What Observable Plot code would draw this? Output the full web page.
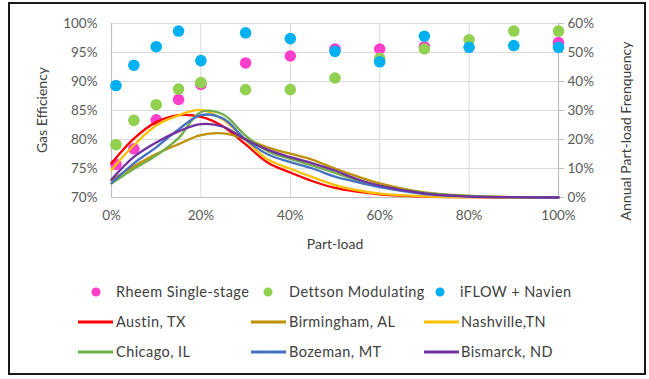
<!DOCTYPE html>
<html>
<head>
<meta charset="utf-8">
<script src="https://cdn.jsdelivr.net/npm/d3@7"></script>
<script src="https://cdn.jsdelivr.net/npm/@observablehq/plot@0.6"></script>
<style>
  html, body { margin: 0; padding: 0; background: #fff; }
  body { width: 649px; height: 379px; position: relative; overflow: hidden; font-family: Lato, "Open Sans", sans-serif; }
  #frame { position: absolute; left: 8px; top: 2px; width: 638px; height: 373px; box-sizing: border-box; border: 2px solid #1a1a1a; }
  #chart { position: absolute; left: 0; top: 0; }
  .t { position: absolute; color: #404040; font-size: 14px; white-space: nowrap; line-height: 1; }
  .rot { transform: translate(-50%, -50%) rotate(-90deg); }
  .leg { position: absolute; color: #404040; font-size: 14.5px; letter-spacing: 0.45px; white-space: nowrap; line-height: 1; transform: translateY(-50%); }
  .sw-dot { position: absolute; width: 9px; height: 9px; border-radius: 50%; transform: translate(-50%, -50%); }
  .sw-line { position: absolute; height: 3px; transform: translateY(-50%); }
</style>
</head>
<body>
<div id="frame"></div>
<div id="chart"></div>
<div id="titles"></div>
<div id="legend"></div>
<script>
// ---- Data ----
const partLoad   = [0, 5, 10, 15, 20, 25, 30, 35, 40, 45, 50, 55, 60, 70, 80, 90, 100];
const austin     = [11.8, 20.3, 26.0, 28.4, 27.8, 24.5, 18.3, 12.0, 8.6, 5.6, 3.3, 2.0, 1.1, 0.3, 0.1, 0, 0];
const birmingham = [6.0, 10.8, 15.0, 18.4, 21.5, 22.1, 20.2, 17.2, 15.1, 13.0, 10.0, 7.3, 4.9, 1.8, 0.6, 0.1, 0];
const nashville  = [9.6, 18.0, 24.8, 28.3, 30.2, 26.8, 19.8, 13.1, 9.9, 7.0, 4.3, 2.5, 1.3, 0.4, 0.1, 0, 0];
const chicago    = [4.8, 9.9, 14.5, 20.5, 29.5, 28.6, 21.3, 16.0, 13.3, 11.0, 8.5, 6.0, 4.0, 1.6, 0.5, 0.1, 0];
const bozeman    = [5.0, 11.8, 17.3, 23.5, 28.4, 27.2, 20.0, 14.8, 12.2, 10.0, 7.2, 5.3, 3.6, 1.2, 0.4, 0.1, 0];
const bismarck   = [6.2, 14.0, 19.0, 22.8, 25.3, 24.4, 20.0, 16.4, 13.9, 11.8, 9.3, 6.3, 4.1, 1.4, 0.3, 0.1, 0];

const rheemX    = [1, 5, 10, 15, 20, 30, 40, 50, 60, 70, 100];
const rheem     = [75.7, 78.4, 83.4, 86.9, 89.5, 93.2, 94.4, 95.6, 95.6, 96.0, 96.7];
const dettsonX  = [1, 5, 10, 15, 20, 30, 40, 50, 60, 70, 80, 90, 100];
const dettson   = [79.1, 83.3, 86.0, 88.7, 89.8, 88.6, 88.6, 90.6, 94.0, 95.6, 97.2, 98.7, 98.7];
const iflowX    = [1, 5, 10, 15, 20, 30, 40, 50, 60, 70, 80, 90, 100];
const iflow     = [89.3, 92.8, 96.0, 98.7, 93.6, 98.4, 97.4, 95.2, 93.4, 97.8, 95.9, 96.2, 95.9];

const effTicks  = [70, 75, 80, 85, 90, 95, 100];
const xTicks    = [0, 20, 40, 60, 80, 100];

const lineSeries = [
  {name: "Austin, TX", values: austin, color: "#FF0000"},
  {name: "Birmingham, AL", values: birmingham, color: "#BF9000"},
  {name: "Nashville,TN", values: nashville, color: "#FFC000"},
  {name: "Chicago, IL", values: chicago, color: "#70AD47"},
  {name: "Bozeman, MT", values: bozeman, color: "#4472C4"},
  {name: "Bismarck, ND", values: bismarck, color: "#7030A0"}
];
const dotSeries = [
  {name: "Rheem Single-stage", xs: rheemX, values: rheem, color: "#FF3FCB"},
  {name: "Dettson Modulating", xs: dettsonX, values: dettson, color: "#92D050"},
  {name: "iFLOW + Navien", xs: iflowX, values: iflow, color: "#00B0F0"}
];

// frequency (0-60%) mapped onto the efficiency scale (70-100%)
const f2e = f => 70 + f / 2;

const lineRows = lineSeries.flatMap(s => partLoad.map((x, i) => ({x, f: s.values[i], name: s.name, color: s.color})));
const dotRows = dotSeries.flatMap(s => s.xs.map((x, i) => ({x, e: s.values[i], name: s.name, color: s.color})));

const W = 649, H = 262;
const chart = Plot.plot({
  width: W, height: H,
  marginLeft: 111, marginRight: 91, marginTop: 23, marginBottom: H - 197,
  style: {fontFamily: "Lato, 'Open Sans', sans-serif", fontSize: "13.5px", color: "#595959", background: "transparent"},
  x: {domain: [0, 100]},
  y: {domain: [70, 100]},
  marks: [
    Plot.gridY(effTicks, {stroke: "#d9d9d9", strokeOpacity: 1, strokeWidth: 1}),
    Plot.gridX(xTicks, {stroke: "#d9d9d9", strokeOpacity: 1, strokeWidth: 1}),
    Plot.ruleX([0, 100], {stroke: "#bfbfbf", strokeWidth: 1.2}),
    Plot.ruleY([70], {stroke: "#bfbfbf", strokeWidth: 1.2}),
    Plot.axisY(effTicks, {anchor: "left", tickSize: 0, tickPadding: 14, tickFormat: d => d + "%", label: null, fill: "#595959"}),
    Plot.axisY(effTicks, {anchor: "right", tickSize: 5, tickPadding: 4, stroke: "#bfbfbf", tickFormat: d => ((d - 70) * 2) + "%", label: null, fill: "#595959"}),
    Plot.axisX(xTicks, {anchor: "bottom", tickSize: 0, tickPadding: 13, tickFormat: d => d + "%", label: null, fill: "#595959"}),
    ...dotSeries.map(s => Plot.dot(dotRows.filter(d => d.name === s.name), {x: "x", y: "e", r: 5.8, fill: s.color, stroke: "none"})),
    ...lineSeries.map(s => Plot.line(lineRows.filter(d => d.name === s.name), {x: "x", y: d => f2e(d.f), stroke: s.color, strokeWidth: 2.3, curve: "catmull-rom"}))
  ]
});
document.getElementById("chart").appendChild(chart);

// ---- Titles ----
const titles = document.getElementById("titles");
function addText(txt, x, y, cls) {
  const el = document.createElement("div");
  el.className = "t " + (cls || "");
  el.textContent = txt;
  el.style.left = x + "px"; el.style.top = y + "px";
  titles.appendChild(el);
  return el;
}
addText("Gas Efficiency", 42, 110, "rot");
addText("Annual Part-load Frenquency", 626, 131, "rot");
const xl = addText("Part-load", 335, 244, "");
xl.style.transform = "translate(-50%, -50%)";

// ---- Legend ----
const legend = document.getElementById("legend");
const dotCols = [{m: 96, t: 116}, {m: 268, t: 289}, {m: 440, t: 460}];
dotSeries.forEach((s, i) => {
  const sw = document.createElement("div");
  sw.className = "sw-dot"; sw.style.background = s.color;
  sw.style.left = dotCols[i].m + "px"; sw.style.top = "292px";
  legend.appendChild(sw);
  const tx = document.createElement("div");
  tx.className = "leg"; tx.textContent = s.name;
  tx.style.left = dotCols[i].t + "px"; tx.style.top = "292px";
  legend.appendChild(tx);
});
const lineCols = [{a: 78, b: 113, t: 116}, {a: 251, b: 286, t: 289}, {a: 424, b: 459, t: 461}];
lineSeries.forEach((s, i) => {
  const col = lineCols[i % 3];
  const y = i < 3 ? 322 : 352;
  const sw = document.createElement("div");
  sw.className = "sw-line"; sw.style.background = s.color;
  sw.style.left = col.a + "px"; sw.style.width = (col.b - col.a) + "px"; sw.style.top = y + "px";
  legend.appendChild(sw);
  const tx = document.createElement("div");
  tx.className = "leg"; tx.textContent = s.name;
  tx.style.left = col.t + "px"; tx.style.top = y + "px";
  legend.appendChild(tx);
});
</script>
</body>
</html>
